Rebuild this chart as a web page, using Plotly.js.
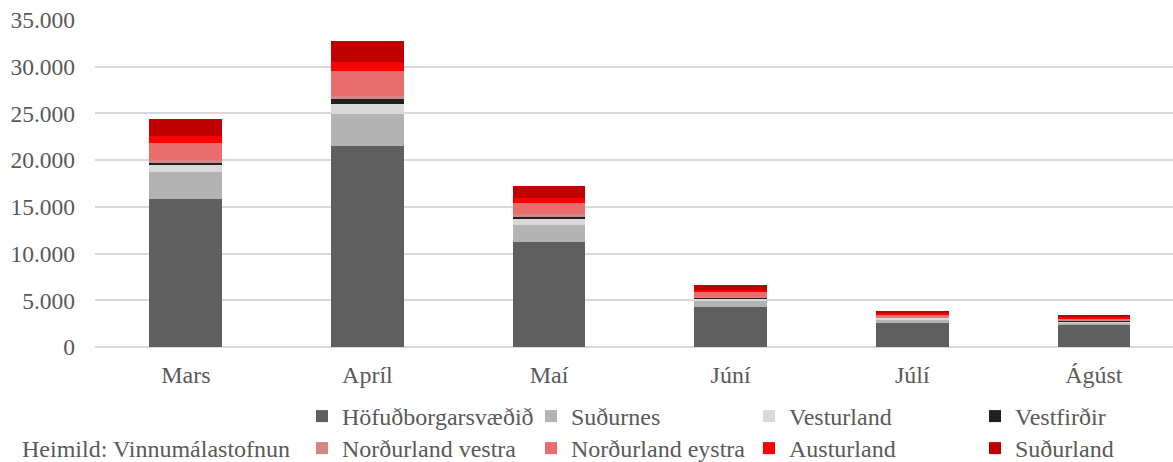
<!DOCTYPE html>
<html>
<head>
<meta charset="utf-8">
<script src="https://cdn.plot.ly/plotly-3.0.1.min.js"></script>
<style>html,body{margin:0;padding:0;background:#fff}#chart{width:1173px;height:462px}</style>
</head>
<body>
<div id="chart"></div>
<script>
const months = ['Mars','Apríl','Maí','Júní','Júlí','Ágúst'];
const seriesNames = ['Höfuðborgarsvæðið','Suðurnes','Vesturland','Vestfirðir','Norðurland vestra','Norðurland eystra','Austurland','Suðurland'];
const hofudborgarsvaedid = [15880, 21560, 11280, 4280, 2570, 2320];
const sudurnes = [2900, 3360, 1820, 720, 400, 310];
const vesturland = [710, 1140, 610, 200, 150, 130];
const vestfirdir = [200, 460, 250, 50, 30, 30];
const nordurlandVestra = [330, 360, 290, 100, 60, 50];
const nordurlandEystra = [1790, 2710, 1180, 500, 250, 250];
const austurland = [810, 900, 500, 290, 130, 150];
const sudurland = [1790, 2310, 1310, 535, 230, 230];
const yTicks = [0, 5000, 10000, 15000, 20000, 25000, 30000, 35000];
const sourceText = 'Heimild: Vinnumálastofnun';

const values = [hofudborgarsvaedid, sudurnes, vesturland, vestfirdir, nordurlandVestra, nordurlandEystra, austurland, sudurland];
const colors = ['#5f5f5f','#b3b3b3','#d9d9d9','#202020','#d48585','#e96d6d','#ff0000','#c00000'];

const W = 1173, H = 462;
const FONT = 'Liberation Serif';
const TXT = '#595959';
const FS = 24;

// legend positions (marker centre px, row centre px)
const legPos = [
  [322, 416.5], [551, 416.5], [769, 416.5], [995, 416.5],
  [322, 448.5], [551, 448.5], [769, 448.5], [995, 448.5]
];

const traces = seriesNames.map((n, i) => ({
  type: 'bar',
  name: n,
  x: months,
  y: values[i],
  marker: {color: colors[i], line: {width: 0}},
  legend: i === 0 ? 'legend' : 'legend' + (i + 1),
  hoverinfo: 'x+y+name'
}));

const layout = {
  width: W, height: H,
  barmode: 'stack',
  bargap: 0.6,
  separators: ',.',
  paper_bgcolor: '#fff',
  plot_bgcolor: '#fff',
  font: {family: FONT, size: FS, color: TXT},
  margin: {l: 94.5, r: 0, t: 20, b: 115, autoexpand: false},
  xaxis: {
    type: 'category',
    range: [-0.5, 5.436],
    showgrid: false,
    zeroline: false,
    showline: false,
    ticks: '',
    automargin: false,
    ticklabelstandoff: 11,
    tickfont: {family: FONT, size: FS, color: TXT}
  },
  yaxis: {
    range: [0, 35000],
    tickvals: yTicks,
    tickformat: ',d',
    showgrid: true,
    gridcolor: '#d9d9d9',
    gridwidth: 1.6,
    zeroline: true,
    zerolinecolor: '#d9d9d9',
    zerolinewidth: 1.6,
    showline: false,
    ticks: '',
    automargin: false,
    ticklabelstandoff: 19,
    tickfont: {family: FONT, size: 23.5, color: TXT}
  },
  showlegend: true,
  annotations: [{
    text: sourceText,
    xref: 'paper', yref: 'paper',
    x: (19 - 94.5) / (W - 94.5), y: (347 - 448.5) / 327,
    xanchor: 'left', yanchor: 'middle',
    showarrow: false,
    font: {family: FONT, size: FS, color: TXT}
  }]
};

legPos.forEach((p, i) => {
  const key = i === 0 ? 'legend' : 'legend' + (i + 1);
  layout[key] = {
    xref: 'container', yref: 'container',
    x: (p[0] - 20) / W, y: 1 - p[1] / H,
    xanchor: 'left', yanchor: 'middle',
    bgcolor: 'rgba(0,0,0,0)', borderwidth: 0,
    font: {family: FONT, size: FS, color: TXT},
    orientation: 'v'
  };
});

Plotly.newPlot('chart', traces, layout, {displayModeBar: false});
</script>
</body>
</html>
